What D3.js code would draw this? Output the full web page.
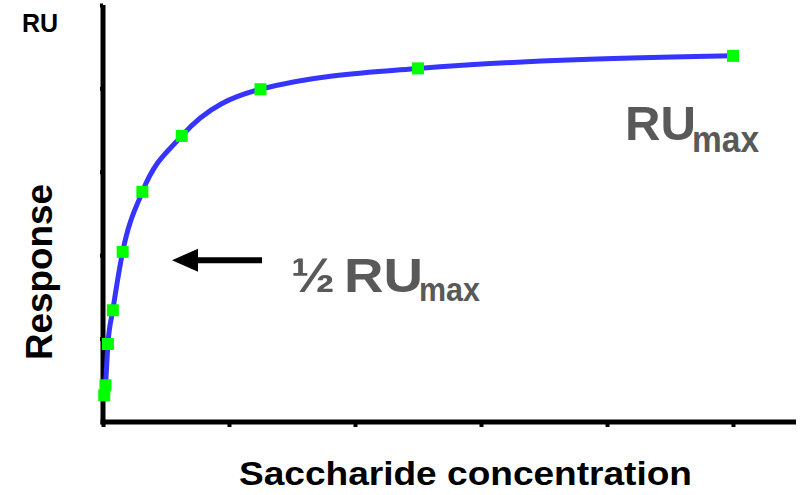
<!DOCTYPE html>
<html>
<head>
<meta charset="utf-8">
<script src="https://cdn.jsdelivr.net/npm/d3@7"></script>
<style>
  html, body { margin: 0; padding: 0; background: #fff; }
  svg { display: block; font-family: "Liberation Sans", Arial, sans-serif; font-weight: bold; }
</style>
</head>
<body>
<svg id="chart" width="803" height="495"></svg>
<script>
// Binding titration: response vs. saccharide concentration
const concentration = [0.0098, 0.0195, 0.039, 0.078, 0.156, 0.3125, 0.625, 1.25, 2.5, 5];
const response = [0.32, 0.44, 0.935, 1.34, 2.04, 2.76, 3.43, 3.99, 4.24, 4.39];
const xTicks = [0, 1, 2, 3, 4, 5];
const yTicks = [1, 2, 3, 4, 5];
const halfLevel = 1.94;

const svg = d3.select("#chart");

const x = d3.scaleLinear().domain([0, 5.5]).range([103, 796]);
const y = d3.scaleLinear().domain([0, 5]).range([422, 5]);

// Axes
const xAxis = d3.axisBottom(x).tickValues(xTicks).tickFormat("").tickSizeInner(5).tickSizeOuter(0);
const yAxis = d3.axisLeft(y).tickValues(yTicks).tickFormat("").tickSizeInner(3).tickSizeOuter(0);

const gx = svg.append("g").attr("transform", `translate(0,${y(0)})`).call(xAxis);
gx.select(".domain").attr("stroke", "#000").attr("stroke-width", 5).attr("d", `M${x(0) - 2.5},0H${x(5.5)}`);
gx.selectAll(".tick line").attr("stroke", "#000").attr("stroke-width", 4);

const gy = svg.append("g").attr("transform", `translate(${x(0)},0)`).call(yAxis);
gy.select(".domain").attr("stroke", "#000").attr("stroke-width", 5).attr("d", `M0,${y(5)}V${y(0) + 2.5}`);
gy.selectAll(".tick line").attr("stroke", "#000").attr("stroke-width", 4);

// Fitted curve through the measurements
const pts = concentration.map((c, i) => [c, response[i]]);
const line = d3.line().x(d => x(d[0])).y(d => y(d[1])).curve(d3.curveMonotoneX);
svg.append("path").datum(pts)
  .attr("d", line)
  .attr("fill", "none")
  .attr("stroke", "#3535ff")
  .attr("stroke-width", 5)
  .attr("stroke-linecap", "round");

// Measured points
const s = 12;
svg.append("g").selectAll("rect").data(pts).join("rect")
  .attr("x", d => x(d[0]) - s / 2)
  .attr("y", d => y(d[1]) - s / 2)
  .attr("width", s).attr("height", s)
  .attr("fill", "#00ff00");

// Text helper: bold label fitted to a given advance width
function label(txt, px, py, size, len, fill) {
  const t = svg.append("text").attr("x", px).attr("y", py)
    .attr("font-size", size).attr("fill", fill).text(txt);
  if (len) t.attr("textLength", len).attr("lengthAdjust", "spacingAndGlyphs");
  return t;
}

// Axis titles
label("RU", 22, 32, 25, null, "#000");
svg.append("text")
  .attr("transform", "translate(52,272) rotate(-90)")
  .attr("text-anchor", "middle").attr("font-size", 36).attr("fill", "#000")
  .attr("textLength", 176).attr("lengthAdjust", "spacingAndGlyphs")
  .text("Response");
label("Saccharide concentration", 239, 485, 34, 453, "#000");

// RUmax annotation
const gray = "#595959";
label("RU", 625, 140, 49, 71, gray);
label("max", 692, 152, 36, 67, gray);

// Half-saturation arrow and label
const ay = y(halfLevel);
svg.append("line").attr("x1", 262).attr("x2", 192).attr("y1", ay).attr("y2", ay)
  .attr("stroke", "#000").attr("stroke-width", 6);
svg.append("path")
  .attr("d", `M172,${ay}L198,${ay - 11.5}L198,${ay + 11.5}Z`)
  .attr("fill", "#000");

label("½", 291, 292, 48, 44, gray);
label("RU", 344, 292, 49, 79, gray);
label("max", 419, 301, 34, 61, gray);
</script>
</body>
</html>
